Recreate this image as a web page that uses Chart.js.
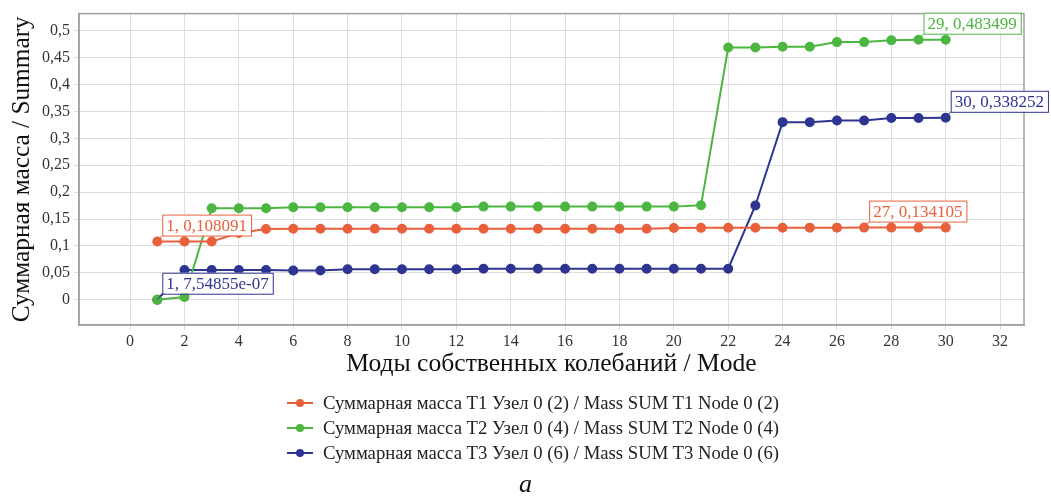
<!DOCTYPE html>
<html>
<head>
<meta charset="utf-8">
<script src="https://cdn.jsdelivr.net/npm/chart.js@4/dist/chart.umd.min.js"></script>
<style>
    body { margin: 0; background: #fff; }
    #wrap { position: relative; width: 1051px; height: 497px; }
    #legend { position: absolute; left: 287px; top: 390px; font-family: "Liberation Serif", serif; font-size: 18.7px; color: #222; }
    .row { height: 25px; display: flex; align-items: center; }
    .mark { position: relative; width: 26px; height: 2px; margin-right: 10px; }
    .mark span { position: absolute; left: 9px; top: -3px; width: 8px; height: 8px; border-radius: 50%; }
    #caption { position: absolute; left: 0; width: 1051px; top: 469px; text-align: center; font-family: "Liberation Serif", serif; font-style: italic; font-size: 26px; color: #111; }
</style>
</head>
<body>
<div id="wrap">
    <canvas id="chart" width="1051" height="497"></canvas>
    <div id="legend"></div>
    <div id="caption">а</div>
</div>
<script>
const modes = [1, 2, 3, 4, 5, 6, 7, 8, 9, 10, 11, 12, 13, 14, 15, 16, 17, 18, 19, 20, 21, 22, 23, 24, 25, 26, 27, 28, 29, 30];

const sumT1 = [0.108091, 0.1081, 0.1081, 0.124, 0.1315, 0.1318, 0.1318, 0.1318, 0.1318, 0.1318, 0.1318, 0.1318, 0.1318, 0.1318, 0.1318, 0.1318,
    0.1318, 0.1318, 0.1318, 0.1335, 0.1336, 0.1337, 0.1338, 0.1339, 0.134, 0.134, 0.134105, 0.134105, 0.134105, 0.134105];
const sumT2 = [0.0000005, 0.0049, 0.1702, 0.1702, 0.1702, 0.1718, 0.1718, 0.1718, 0.1718, 0.1718, 0.1718, 0.1718, 0.1731, 0.1731, 0.1731, 0.1731,
    0.1731, 0.1731, 0.1731, 0.1731, 0.1755, 0.4690, 0.4690, 0.4702, 0.4702, 0.4790, 0.4790, 0.4825, 0.483499, 0.483499];
const sumT3 = [0.000000754855, 0.0552, 0.0552, 0.0552, 0.0552, 0.0542, 0.0542, 0.0565, 0.0565, 0.0565, 0.0565, 0.0565, 0.0577, 0.0577, 0.0577, 0.0577,
    0.0577, 0.0577, 0.0577, 0.0577, 0.0577, 0.0577, 0.1752, 0.3302, 0.3302, 0.3333, 0.3333, 0.3378, 0.3378, 0.338252];

const seriesNames = [
    "Суммарная масса T1 Узел 0 (2) / Mass SUM T1 Node 0 (2)",
    "Суммарная масса T2 Узел 0 (4) / Mass SUM T2 Node 0 (4)",
    "Суммарная масса T3 Узел 0 (6) / Mass SUM T3 Node 0 (6)"
];
const seriesColors = ['#e8603c', '#4cb641', '#2e3591'];

const xTicks = [0, 2, 4, 6, 8, 10, 12, 14, 16, 18, 20, 22, 24, 26, 28, 30, 32];
const yTicks = [0, 0.05, 0.1, 0.15, 0.2, 0.25, 0.3, 0.35, 0.4, 0.45, 0.5];

// point labels: [series, mode index, text]
const pointLabels = [
    [0, 0, "1, 0,108091"],
    [2, 0, "1, 7,54855e-07"],
    [0, 26, "27, 0,134105"],
    [1, 28, "29, 0,483499"],
    [2, 29, "30, 0,338252"]
];

const FONT = '"Liberation Serif", "Times New Roman", serif';

function toPoints(values) {
    return modes.map((m, i) => ({ x: m, y: values[i] }));
}

function commaNum(v) {
    return String(v).replace('.', ',');
}

const frame = {
    id: 'frame',
    beforeDatasetsDraw(chart) {
        const a = chart.chartArea;
        const ctx = chart.ctx;
        ctx.save();
        ctx.strokeStyle = '#a0a0a0';
        ctx.lineWidth = 1.5;
        ctx.strokeRect(a.left, a.top, a.right - a.left, a.bottom - a.top);
        ctx.restore();
    }
};

const labelBoxes = {
    id: 'labelBoxes',
    afterDatasetsDraw(chart) {
        const ctx = chart.ctx;
        ctx.save();
        ctx.font = '17px ' + FONT;
        ctx.textBaseline = 'middle';
        pointLabels.forEach(([s, i, text]) => {
            const pt = chart.getDatasetMeta(s).data[i];
            const color = seriesColors[s];
            const bx = pt.x + 5, by = pt.y - 6;
            const w = ctx.measureText(text).width + 8, h = 21;
            ctx.strokeStyle = color;
            ctx.lineWidth = 1;
            ctx.beginPath();
            ctx.moveTo(pt.x, pt.y);
            ctx.lineTo(bx, by);
            ctx.stroke();
            ctx.fillStyle = '#fff';
            ctx.fillRect(bx, by - h, w, h);
            ctx.strokeRect(bx + 0.5, by - h + 0.5, w, h);
            ctx.fillStyle = color;
            ctx.fillText(text, bx + 4, by - h / 2 + 1);
        });
        ctx.restore();
    }
};

function drawChart() {
    const canvas = document.getElementById('chart').getContext('2d');
    const data = {
        datasets: [sumT1, sumT2, sumT3].map((vals, k) => ({
            label: seriesNames[k],
            data: toPoints(vals),
            borderColor: seriesColors[k],
            backgroundColor: seriesColors[k],
            pointBackgroundColor: seriesColors[k],
            pointBorderColor: seriesColors[k],
            borderWidth: 2,
            pointRadius: 4,
            tension: 0
        }))
    };

    const config = {
        type: 'line',
        data: data,
        options: {
            responsive: false,
            animation: false,
            layout: { padding: { top: 10, right: 27, bottom: 117, left: 0 } },
            plugins: {
                legend: { display: false },
                tooltip: { enabled: false }
            },
            scales: {
                x: {
                    type: 'linear',
                    min: -1.88,
                    max: 32.88,
                    afterBuildTicks: (scale) => { scale.ticks = xTicks.map(v => ({ value: v })); },
                    afterFit: (scale) => { scale.height = 55; },
                    grid: { color: '#dedede', tickLength: 5 },
                    border: { color: '#a0a0a0', width: 1.5 },
                    ticks: { color: '#333', font: { family: FONT, size: 16 }, padding: 2, maxRotation: 0 },
                    title: { display: true, text: 'Моды собственных колебаний / Mode', color: '#111', font: { family: FONT, size: 25.6 }, padding: { top: 0, bottom: 0 } }
                },
                y: {
                    min: -0.047,
                    max: 0.532,
                    afterBuildTicks: (scale) => { scale.ticks = yTicks.map(v => ({ value: v })); },
                    afterFit: (scale) => { scale.width = 79; },
                    grid: { color: '#dedede', tickLength: 5 },
                    border: { color: '#a0a0a0', width: 1.5 },
                    ticks: { color: '#333', font: { family: FONT, size: 16 }, padding: 4, callback: (v) => commaNum(v) },
                    title: { display: true, text: 'Суммарная масса / Summary', color: '#111', font: { family: FONT, size: 25.3 }, padding: { top: 7, bottom: 0 } }
                }
            }
        },
        plugins: [frame, labelBoxes]
    };

    return new Chart(canvas, config);
}

function makeLegend() {
    const html = [];
    seriesNames.forEach((name, k) => {
        html.push(`<div class="row"><div class="mark" style="background:${seriesColors[k]}"><span style="background:${seriesColors[k]}"></span></div>${name}</div>`);
    });
    document.getElementById('legend').innerHTML = html.join("");
}

drawChart();
makeLegend();
</script>
</body>
</html>
